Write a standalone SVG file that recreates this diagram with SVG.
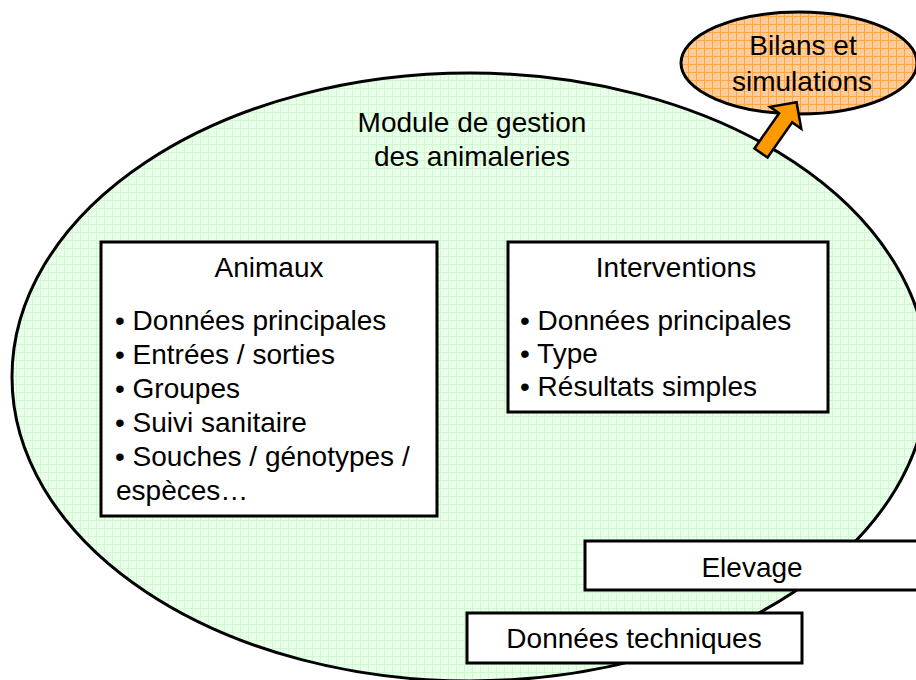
<svg xmlns="http://www.w3.org/2000/svg" width="916" height="680" viewBox="0 0 916 680">
  <defs>
    <pattern id="gridGreen" width="8" height="8" patternUnits="userSpaceOnUse">
      <rect width="8" height="8" fill="#e9ffe9"/>
      <path d="M0,0.5 H8 M0.5,0 V8" stroke="#d0f8d0" stroke-width="1" fill="none"/>
    </pattern>
    <pattern id="gridOrange" width="8" height="8" patternUnits="userSpaceOnUse">
      <rect width="8" height="8" fill="#ffcc99"/>
      <path d="M0,0.5 H8 M0.5,0 V8" stroke="#ffa640" stroke-width="1" fill="none"/>
    </pattern>
  </defs>
  <style>
    text { font-family: "Liberation Sans", Arial, sans-serif; font-size: 28px; fill: #000; }
    .c { text-anchor: middle; }
    .box { fill: #ffffff; stroke: #000; stroke-width: 3; }
    .outline { stroke: #000; stroke-width: 3; }
  </style>

  <g id="module">
    <ellipse cx="470" cy="377" rx="458" ry="304" fill="url(#gridGreen)" class="outline"/>
    <text class="c" x="472" y="132">Module de gestion</text>
    <text class="c" x="472" y="166">des animaleries</text>
  </g>

  <g id="bilans">
    <ellipse cx="799" cy="63" rx="118" ry="51" fill="url(#gridOrange)" class="outline"/>
    <text class="c" x="803" y="55">Bilans et</text>
    <text class="c" x="802" y="91">simulations</text>
  </g>

  <g id="animaux">
    <rect class="box" x="101" y="242" width="336" height="274"/>
    <text class="c" x="269" y="277">Animaux</text>
    <text x="115" y="330">• Données principales</text>
    <text x="115" y="364">• Entrées / sorties</text>
    <text x="115" y="398">• Groupes</text>
    <text x="115" y="432">• Suivi sanitaire</text>
    <text x="115" y="466">• Souches / génotypes /</text>
    <text x="116" y="500">espèces…</text>
  </g>

  <g id="interventions">
    <rect class="box" x="508" y="242" width="320" height="170"/>
    <text class="c" x="676" y="277">Interventions</text>
    <text x="520" y="330">• Données principales</text>
    <text x="520" y="363">• Type</text>
    <text x="520" y="396">• Résultats simples</text>
  </g>

  <g id="elevage">
    <rect class="box" x="585" y="541" width="336" height="49"/>
    <text class="c" x="752" y="577">Elevage</text>
  </g>

  <g id="donnees-techniques">
    <rect class="box" x="467" y="613" width="335" height="50"/>
    <text class="c" x="634" y="648">Données techniques</text>
  </g>

  <g id="connectors">
    <path d="M0,-8 L43,-8 L43,-19 L62,0 L43,19 L43,8 L0,8 Z" transform="translate(761,153) rotate(-55)" fill="#ff9900" stroke="#000" stroke-width="2.5" stroke-linejoin="miter"/>
  </g>
</svg>
